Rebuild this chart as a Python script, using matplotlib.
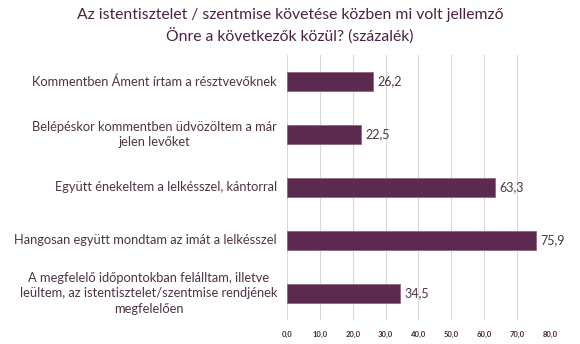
import matplotlib
matplotlib.use("Agg")
from matplotlib import pyplot as plt
from matplotlib.ticker import FuncFormatter

categories = [
    "Kommentben Áment írtam a résztvevőknek",
    "Belépéskor kommentben üdvözöltem a már\njelen levőket",
    "Együtt énekeltem a lelkésszel, kántorral",
    "Hangosan együtt mondtam az imát a lelkésszel",
    "A megfelelő időpontokban feláll\u0074am, illetve\nleültem, az istentisztelet/szentmise rendjének\nmegfelelően",
]
values = [26.2, 22.5, 63.3, 75.9, 34.5]
xticks = [0, 10, 20, 30, 40, 50, 60, 70, 80]

title = "Az istentisztelet / szentmise követése közben mi volt jellemző\nÖnre a következők közül? (százalék)"

bar_color = "#5c2a4f"
text_color = "#4d3346"
title_color = "#4a2342"

plt.rcParams['font.family'] = ['Lato', 'DejaVu Sans']

fig = plt.figure(figsize=(5.8, 3.44), dpi=100)
ax = fig.add_axes([0.495, 0.07, 0.453, 0.77])

y = list(range(len(values)))
bars = ax.barh(y, values, height=0.35, color=bar_color, edgecolor="#8a6a82", linewidth=0.6, zorder=3)
ax.set_xlim(0, 80)
ax.set_ylim(len(values) - 0.5, -0.5)
ax.set_xticks(xticks)
ax.xaxis.set_major_formatter(FuncFormatter(lambda v, p: ("%.1f" % v).replace(".", ",")))
ax.tick_params(axis='x', length=0, labelsize=5.5, labelcolor=title_color, pad=8)
for lbl in ax.get_xticklabels():
    lbl.set_fontweight('bold')
ax.set_yticks([])
ax.grid(axis='x', color="#d9d9d9", linewidth=0.8, zorder=0)
for s in ax.spines.values():
    s.set_visible(False)

for rect, v in zip(bars, values):
    ax.text(v + 1.2, rect.get_y() + rect.get_height() / 2, ("%.1f" % v).replace(".", ","),
            va='center', ha='left', fontsize=9, color=text_color)

for yi, lab in zip(y, categories):
    ax.text(-0.038, yi, lab, transform=ax.get_yaxis_transform(), ha='right', va='center',
            multialignment='center', fontsize=9.3, color=text_color, linespacing=1.35)

fig.text(0.5, 0.925, title, ha='center', va='center', fontsize=11.3, color=title_color, linespacing=1.35)

fig.savefig("out.png", dpi=100)
